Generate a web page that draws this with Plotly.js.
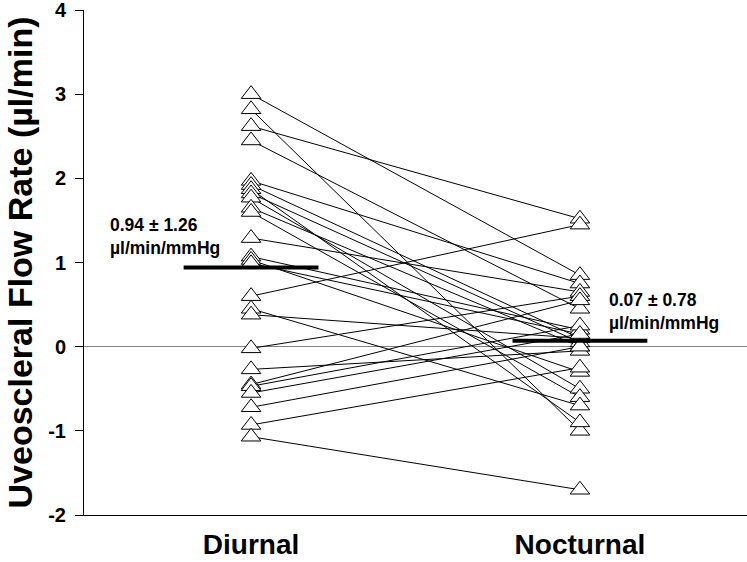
<!DOCTYPE html>
<html>
<head>
<meta charset="utf-8">
<script src="https://cdn.plot.ly/plotly-3.0.1.min.js"></script>
<style>html,body{margin:0;padding:0;background:#fff}#chart{width:747px;height:562px}</style>
</head>
<body>
<div id="chart"></div>
<script>
var categories = ["Diurnal", "Nocturnal"];
var diurnal   = [3.00, 2.82, 2.62, 2.45, 1.97, 1.92, 1.87, 1.82, 1.77, 1.65, 1.60, 1.29, 1.07, 1.03, 0.99, 0.60, 0.45, 0.38, -0.02, -0.27, -0.45, -0.47, -0.55, -0.72, -0.93, -1.07];
var nocturnal = [0.85, -1.00, 1.52, 0.45, 0.75, 0.10, -0.90, 0.05, -0.50, 0.00, -0.60, 0.65, 0.20, -0.30, 0.15, 1.45, -0.70, 0.10, 0.60, -0.05, 0.55, 0.25, 0.15, 0.00, -0.25, -1.70];
var means = [0.94, 0.07];
var meanLabels = ["0.94 \u00b1 1.26<br>\u00b5l/min/mmHg", "0.07 \u00b1 0.78<br>\u00b5l/min/mmHg"];
var yTicks = [-2, -1, 0, 1, 2, 3, 4];

var xPos = [1, 2];
var traces = [];
for (var i = 0; i < diurnal.length; i++) {
  traces.push({x: xPos, y: [diurnal[i], nocturnal[i]], mode: 'lines', type: 'scatter',
    line: {color: '#000', width: 1}, hoverinfo: 'skip', showlegend: false});
}
var mx = [], my = [];
for (var i = 0; i < diurnal.length; i++) { mx.push(1); my.push(diurnal[i]); }
for (var i = 0; i < nocturnal.length; i++) { mx.push(2); my.push(nocturnal[i]); }
traces.push({x: mx, y: my, mode: 'markers', type: 'scatter', showlegend: false,
  marker: {symbol: 'triangle-up', size: 17, color: '#fff', line: {color: '#000', width: 1}}});
var hw = 0.205;
for (var k = 0; k < means.length; k++) {
  traces.push({x: [xPos[k] - hw, xPos[k] + hw], y: [means[k], means[k]], mode: 'lines', type: 'scatter',
    line: {color: '#000', width: 4}, showlegend: false});
}

var layout = {
  width: 747, height: 562,
  margin: {l: 84, r: 0, t: 10, b: 47, pad: 0},
  paper_bgcolor: '#fff', plot_bgcolor: '#fff',
  font: {family: 'Liberation Sans, Arial, sans-serif', color: '#000'},
  xaxis: {range: [0.492, 2.508], tickvals: xPos, ticktext: categories.map(function(c){return '<b>'+c+'</b>';}),
    ticks: '', showgrid: false, zeroline: false, showline: true, linecolor: '#000', linewidth: 1,
    tickfont: {size: 28}, ticklabelstandoff: 4, ticklabeloverflow: 'allow'},
  yaxis: {range: [-2, 4], tickvals: yTicks, ticktext: yTicks.map(function(v){return '<b>'+v+'</b>';}),
    ticks: 'outside', ticklen: 8, tickcolor: '#000', showgrid: false,
    zeroline: true, zerolinecolor: '#808080', zerolinewidth: 1, ticklabeloverflow: 'allow',
    showline: true, linecolor: '#000', linewidth: 1, tickfont: {size: 20}, ticklabelstandoff: 5,
    title: {text: '<b>Uveoscleral Flow Rate (\u00b5l/min)</b>', font: {size: 34}, standoff: 5}},
  annotations: [
    {xref: 'paper', yref: 'paper', x: (108-84)/663, y: (515-213)/505, xanchor: 'left', yanchor: 'top',
      text: '<b>' + meanLabels[0] + '</b>', showarrow: false, align: 'left', font: {size: 17.5}},
    {xref: 'paper', yref: 'paper', x: (607-84)/663, y: (515-288)/505, xanchor: 'left', yanchor: 'top',
      text: '<b>' + meanLabels[1] + '</b>', showarrow: false, align: 'left', font: {size: 17.5}}
  ]
};
Plotly.newPlot('chart', traces, layout, {displayModeBar: false, staticPlot: true});
</script>
</body>
</html>
